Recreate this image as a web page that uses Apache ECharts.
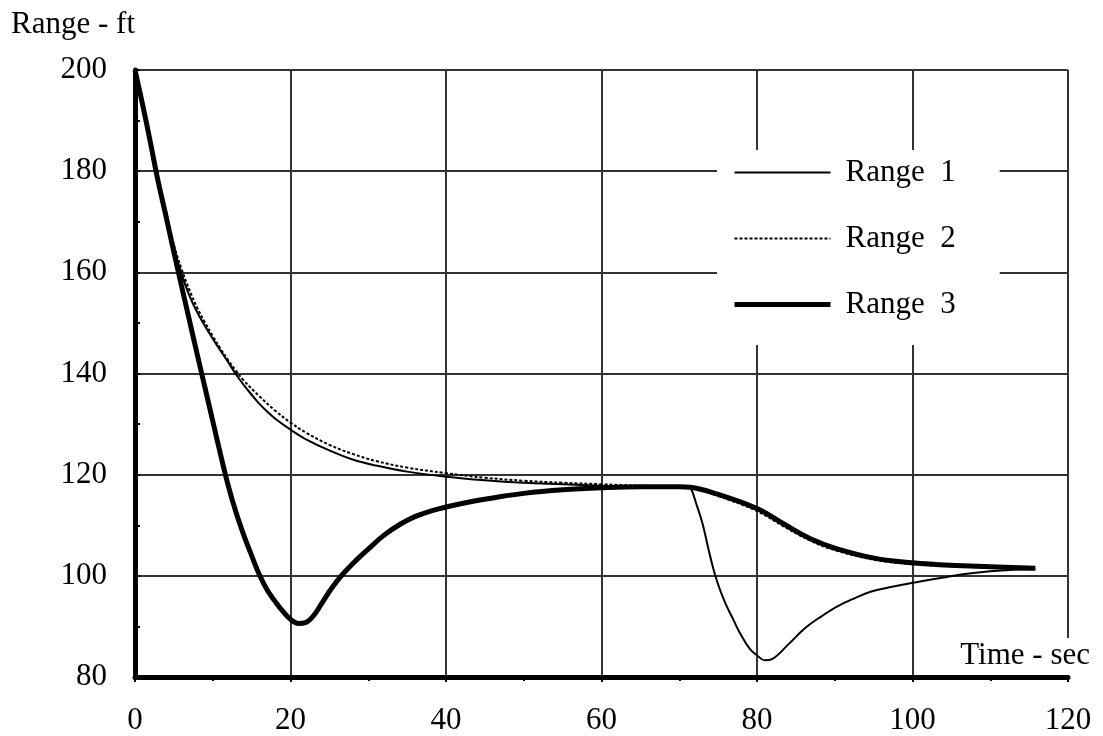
<!DOCTYPE html>
<html>
<head>
    <meta charset="utf-8">
    <script src="https://cdn.jsdelivr.net/npm/echarts@6/dist/echarts.min.js"></script>
</head>
<body style="margin: 0; background: #fff;">
<div id="echartsMain" style="width: 1103px; height: 736px;"></div>
</body>
</html>

<script type="text/javascript">
    // values
    let t1 = [0, 1, 2, 3, 4, 5, 6, 7, 8, 9, 10, 11, 12, 13, 14, 15, 16, 17, 18, 20, 22, 25, 28, 31, 35, 40, 45, 50, 55, 60, 65, 70, 71, 71.5, 72.2, 73, 73.8, 74.6, 75.3, 76.1, 77, 77.8, 79.1, 80, 81, 82, 84, 86.2, 88.3, 90.4, 92.6, 94.7, 96.9, 99.9, 103.7, 107, 110, 113, 115.8]
    let r1 = [200, 193, 185.5, 178, 171, 164.8, 159.6, 155.4, 152.1, 149.4, 146.9, 144.5, 142.2, 139.8, 137.7, 135.8, 134, 132.5, 131.1, 128.9, 127, 124.8, 123, 121.8, 120.6, 119.6, 118.9, 118.4, 118.1, 117.8, 117.6, 117.5, 117.5, 117.2, 114.2, 110.3, 105, 100.2, 97, 94, 91.2, 88.7, 85.5, 84.3, 83.3, 83.6, 86.4, 89.7, 92, 94, 95.6, 96.9, 97.7, 98.6, 99.6, 100.4, 100.9, 101.2, 101.3]

    let t2 = [0, 1, 2, 3, 4, 5, 6, 7, 8, 9, 10, 11, 12, 13, 14, 16, 18, 20, 22, 25, 28, 31, 35, 40, 45, 50, 55, 60, 65, 70, 72, 75, 80, 83.4, 86.8, 90.2, 95.4, 100, 104.8, 110, 115.5]
    let r2 = [200, 193, 186, 179, 172, 165.5, 160.6, 156.5, 153, 150.1, 147.4, 144.9, 142.6, 140.5, 138.6, 135.5, 132.7, 130.3, 128.3, 125.9, 124.1, 122.7, 121.4, 120.3, 119.4, 118.8, 118.4, 118.1, 117.8, 117.6, 117.3, 115.8, 112.8, 109.8, 107, 105, 103.1, 102.3, 101.9, 101.6, 101.3]

    let t3 = [0, 1, 2, 3, 4, 5, 6, 7, 8, 9, 10, 11, 12, 13, 14, 15, 16, 17, 18, 19, 20, 21, 22, 23, 24, 25, 26, 27, 28, 29, 30, 32, 34, 36, 38, 40, 43, 46, 50, 55, 60, 65, 70, 71.4, 74.8, 80, 83.4, 86.8, 90.2, 95.4, 100, 104.8, 110, 115.8]
    let r3 = [200, 193, 185.5, 177.8, 171, 164, 157.2, 150.5, 143.8, 137.2, 130.6, 124, 117.8, 112.5, 108, 104, 100.2, 97.2, 95, 93, 91.4, 90.6, 90.8, 92.2, 94.5, 96.9, 99, 100.8, 102.4, 103.9, 105.3, 108, 110.1, 111.7, 112.8, 113.6, 114.6, 115.4, 116.3, 117, 117.4, 117.6, 117.6, 117.5, 116.2, 113.3, 110.3, 107.4, 105.4, 103.4, 102.6, 102.1, 101.8, 101.5]

    let names = ['Range  1', 'Range  2', 'Range  3']

    function pairs(ts, vs) {
        return ts.map((t, i) => [t, vs[i]])
    }

    let myChart = echarts.init(document.getElementById('echartsMain'));

    let font = 'Liberation Serif'
    let lineStyles = [
        {color: '#000', width: 2, type: 'solid'},
        {color: '#000', width: 2, type: [3, 2]},
        {color: '#000', width: 5, type: 'solid'}
    ]

    var option = {
        backgroundColor: '#fff',
        animation: false,
        textStyle: {fontFamily: font, color: '#000'},
        grid: {left: 135, right: 35, top: 70, bottom: 55},
        legend: {
            orient: 'vertical',
            left: 717,
            top: 150,
            backgroundColor: '#fff',
            padding: [7, 44, 25, 15],
            itemWidth: 96,
            itemHeight: 30,
            itemGap: 35,
            textStyle: {fontFamily: font, fontSize: 31, color: '#000', padding: [0, 0, 0, 10]},
            data: names.map((n, i) => ({
                name: n,
                lineStyle: lineStyles[i],
                itemStyle: {color: 'rgba(0,0,0,0)', borderWidth: 0, opacity: 0}
            }))
        },
        xAxis: {
            type: 'value',
            min: 0,
            max: 120,
            interval: 20,
            name: 'Time - sec',
            nameLocation: 'end',
            nameGap: 22,
            nameTextStyle: {
                fontFamily: font, fontSize: 31, color: '#000',
                align: 'right', verticalAlign: 'bottom',
                backgroundColor: '#fff', padding: [2, 0, 6, 0]
            },
            axisLine: {lineStyle: {color: '#000', width: 5}},
            axisTick: {show: true, inside: false, length: 5, lineStyle: {color: '#000', width: 2}},
            minorTick: {show: true, splitNumber: 2, length: 4, lineStyle: {color: '#000', width: 2}},
            axisLabel: {fontFamily: font, fontSize: 31, color: '#000', margin: 28},
            splitLine: {show: true, lineStyle: {color: '#333', width: 2}}
        },
        yAxis: {
            type: 'value',
            min: 80,
            max: 200,
            interval: 20,
            name: 'Range - ft',
            nameLocation: 'end',
            nameGap: 30,
            nameTextStyle: {fontFamily: font, fontSize: 31, color: '#000', align: 'right'},
            axisLine: {show: true, lineStyle: {color: '#000', width: 5}},
            axisTick: {show: true, inside: true, length: 5, lineStyle: {color: '#000', width: 2}},
            minorTick: {show: true, splitNumber: 2, length: 5, lineStyle: {color: '#000', width: 2}},
            axisLabel: {fontFamily: font, fontSize: 31, color: '#000', margin: 28},
            splitLine: {show: true, lineStyle: {color: '#333', width: 2}}
        },
        series: [
            {
                name: names[0],
                type: 'line',
                symbol: 'none',
                smooth: 0.4,
                lineStyle: lineStyles[0],
                data: pairs(t1, r1)
            },
            {
                name: names[1],
                type: 'line',
                symbol: 'none',
                smooth: 0.4,
                lineStyle: lineStyles[1],
                data: pairs(t2, r2)
            },
            {
                name: names[2],
                type: 'line',
                symbol: 'none',
                smooth: 0.4,
                lineStyle: lineStyles[2],
                data: pairs(t3, r3)
            }
        ]
    };
    myChart.setOption(option);
</script>
